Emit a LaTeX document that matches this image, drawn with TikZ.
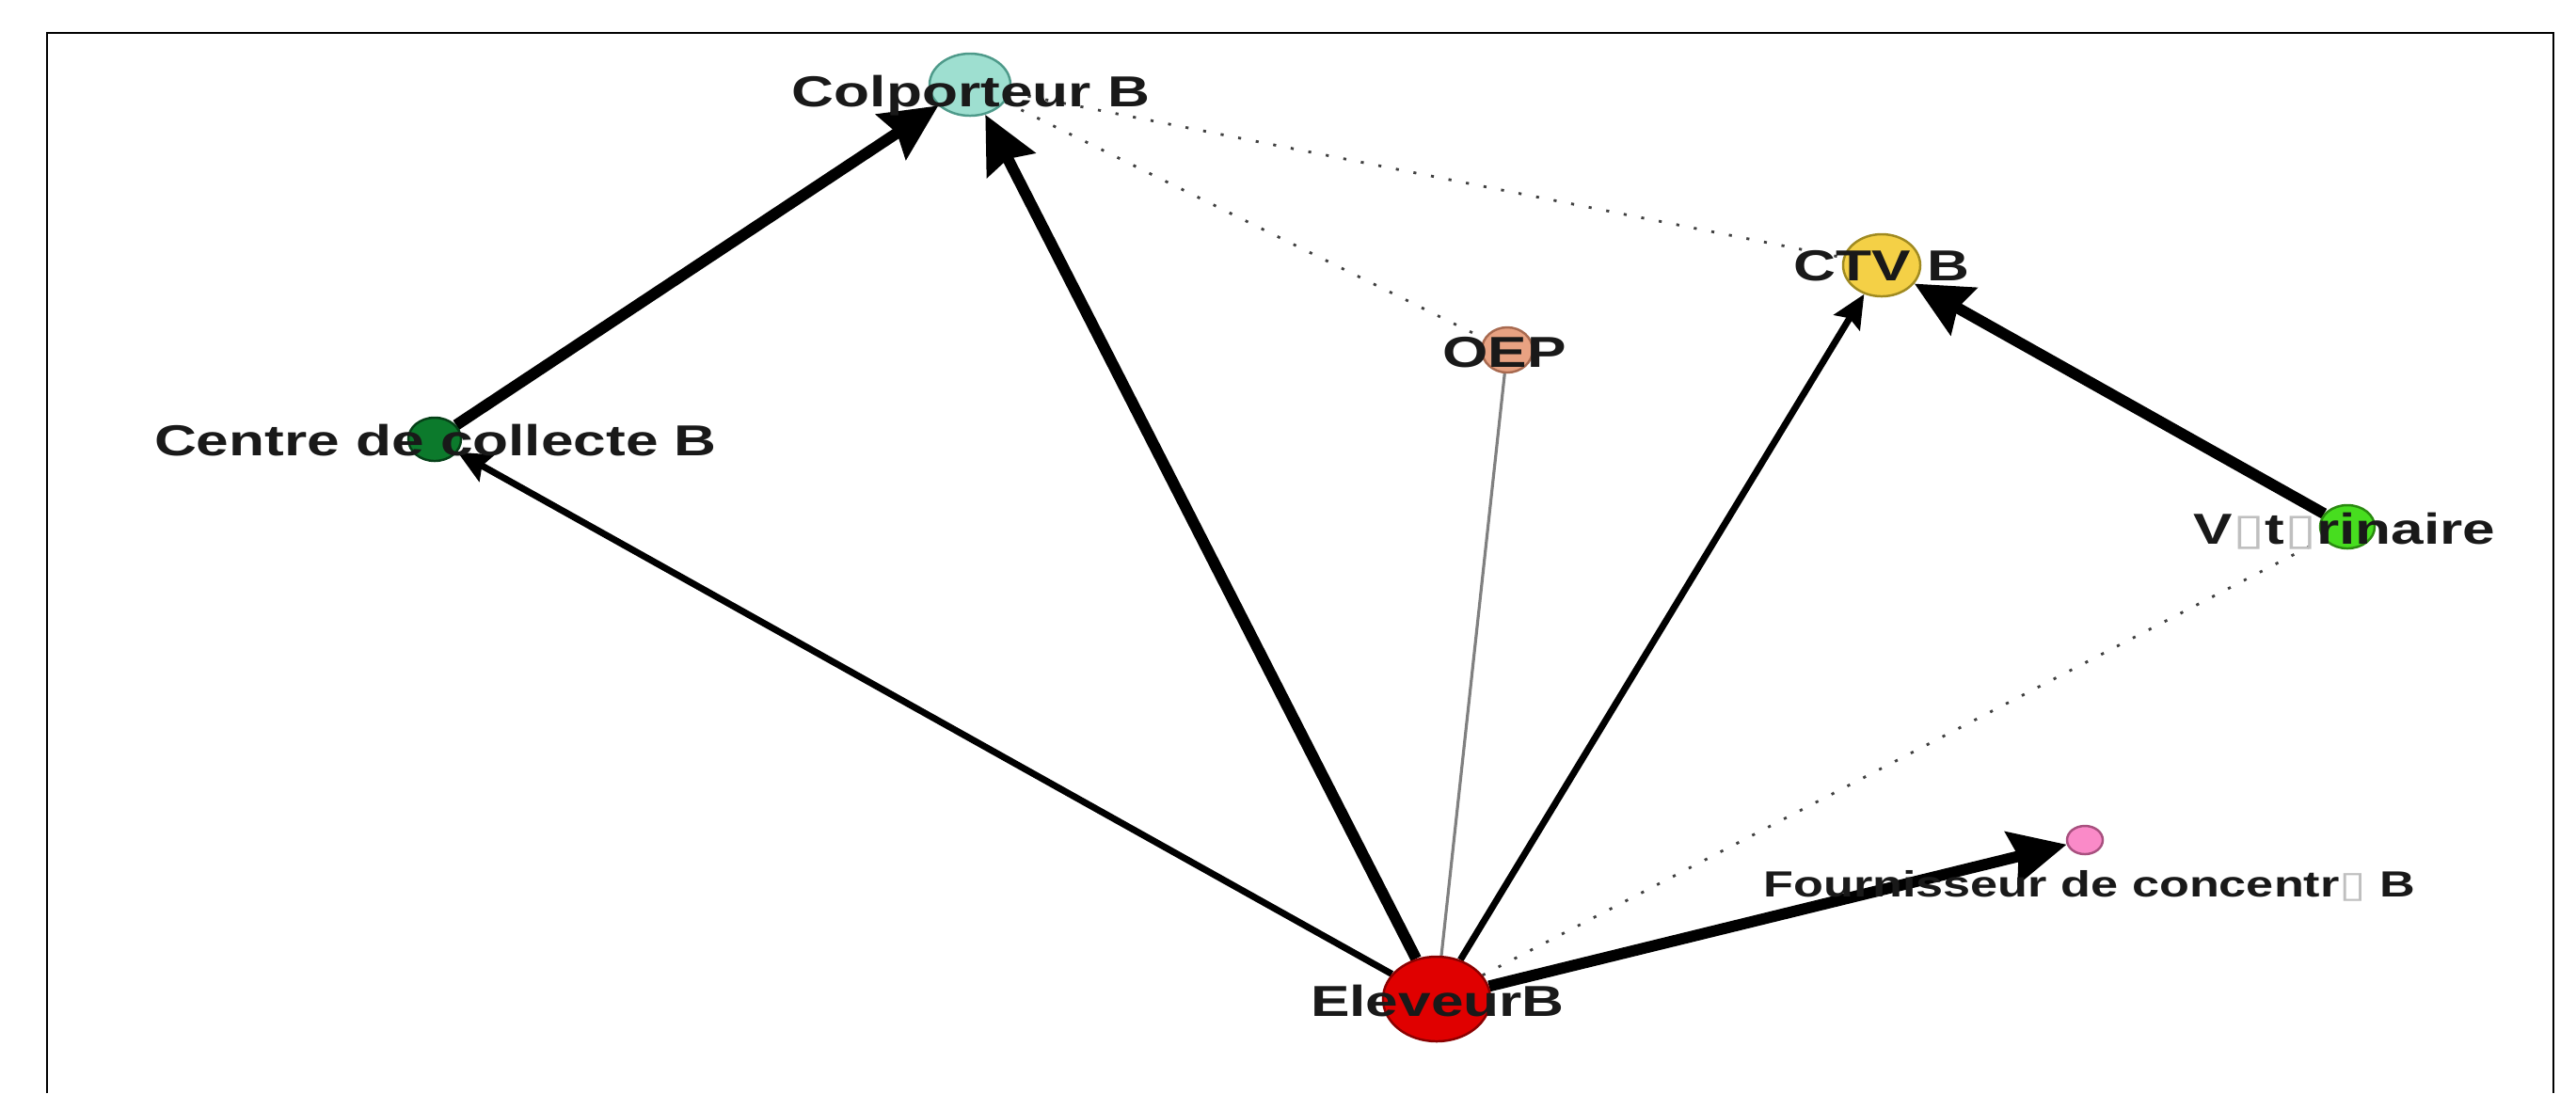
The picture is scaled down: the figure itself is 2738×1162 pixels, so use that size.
\documentclass[tikz,border=0pt]{standalone}
\usepackage{fontspec}
\usepackage{graphicx}
\setmainfont{Liberation Sans}
\newfontfamily\boxfont{DejaVu Sans}
\usetikzlibrary{shapes.geometric,arrows.meta}
\newcommand{\missg}{{\boxfont\mdseries\color{black!25}▯}}
\newcommand{\wide}[1]{\scalebox{1.35}[1]{#1}}
\pgfdeclarelayer{edgelayer}
\pgfdeclarelayer{labellayer}
\pgfsetlayers{edgelayer,main,labellayer}
\definecolor{colpf}{HTML}{9EDFD0}\definecolor{colpd}{HTML}{4E9A8A}
\definecolor{ctvf}{HTML}{F4D046}\definecolor{ctvd}{HTML}{A08A20}
\definecolor{oepf}{HTML}{E8A282}\definecolor{oepd}{HTML}{A86A50}
\definecolor{vetf}{HTML}{47DD1F}\definecolor{vetd}{HTML}{2A8A10}
\definecolor{cenf}{HTML}{0C7A2C}\definecolor{cend}{HTML}{064018}
\definecolor{elef}{HTML}{E00000}\definecolor{eled}{HTML}{8B0000}
\definecolor{fouf}{HTML}{FA8AC8}\definecolor{foud}{HTML}{A8507F}
\begin{document}
\begin{tikzpicture}[x=0.01cm,y=-0.01cm,
  vtx/.style={ellipse,inner sep=0pt,line width=0.7pt},
  lab/.style={anchor=base,inner sep=0pt,font=\bfseries\fontsize{13.1}{15}\selectfont,text=black!90},
  smalllab/.style={anchor=base,inner sep=0pt,font=\bfseries\fontsize{11}{13}\selectfont,text=black!90},
  thickarr/.style={line width=3.4pt,-{Stealth[length=17pt,width=16pt,inset=2pt]}},
  medarr/.style={line width=2pt,-{Stealth[length=10pt,width=9pt,inset=1.5pt]}},
  dotline/.style={line width=0.8pt,dash pattern=on 0.9pt off 4.5pt,black!75},
  grayline/.style={line width=0.9pt,black!50}]
\useasboundingbox (0,0) rectangle (2738,1162);
% vertices
\node[vtx,fill=colpf,draw=colpd,minimum width=0.86cm,minimum height=0.66cm] (C) at (1031,90) {};
\node[vtx,fill=ctvf,draw=ctvd,minimum width=0.82cm,minimum height=0.66cm] (T) at (2000,282) {};
\node[vtx,fill=oepf,draw=oepd,minimum width=0.54cm,minimum height=0.48cm] (O) at (1602,372) {};
\node[vtx,fill=vetf,draw=vetd,minimum width=0.58cm,minimum height=0.46cm] (V) at (2495,560) {};
\node[vtx,fill=elef,draw=eled,minimum width=1.14cm,minimum height=0.90cm] (E) at (1527,1062) {};
\node[vtx,fill=cenf,draw=cend,minimum width=0.56cm,minimum height=0.46cm] (K) at (462,467) {};
\node[vtx,fill=fouf,draw=foud,minimum width=0.38cm,minimum height=0.30cm] (F) at (2216,893) {};
% background, frame and edges
\begin{pgfonlayer}{edgelayer}
\fill[white] (0,0) rectangle (2738,1162);
\draw[line width=0.7pt] (50,1162) -- (50,35) -- (2714,35) -- (2714,1162);
\draw[thickarr] (K) -- (C);
\draw[thickarr] (E) -- (C);
\draw[medarr] (E) -- (K);
\draw[medarr] (E) -- (T);
\draw[thickarr] (V) -- (T);
\draw[thickarr] (E) -- (F);
\draw[grayline] (E) -- (O);
\draw[dotline] (C) -- (O);
\draw[dotline] (C) -- (T);
\draw[dotline] (E) -- (V);
\end{pgfonlayer}
% labels
\begin{pgfonlayer}{labellayer}
\node[lab] (Cl) at (1032,113) {\wide{Colporteur B}};
\node[lab] (Tl) at (2000,298) {\wide{CTV B}};
\node[lab] (Ol) at (1599,390) {\wide{OEP}};
\node[lab] (Vl) at (2492,578) {\wide{V\missg t\missg rinaire}};
\node[lab] (El) at (1528,1080) {\wide{EleveurB}};
\node[lab] (Kl) at (463,484) {\wide{Centre de collecte B}};
\node[smalllab] (Fl) at (2221,953) {\wide{Fournisseur de concentr\missg{} B}};
\end{pgfonlayer}
\end{tikzpicture}
\end{document}
